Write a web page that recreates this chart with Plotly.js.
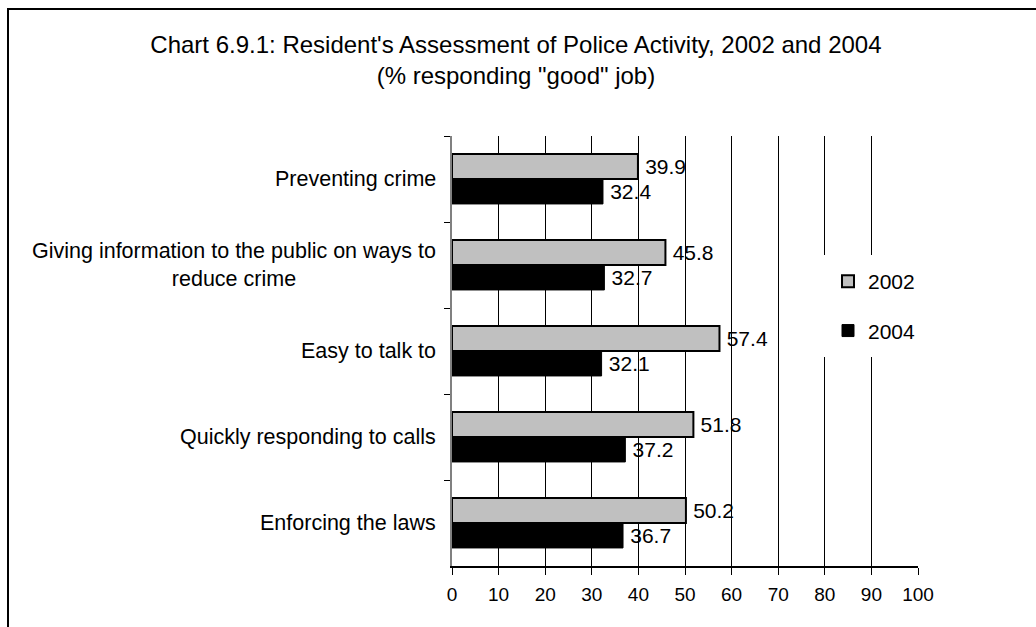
<!DOCTYPE html>
<html>
<head>
<meta charset="utf-8">
<script src="https://cdn.plot.ly/plotly-3.0.1.min.js"></script>
<style>
html,body{margin:0;padding:0;background:#fff;overflow:hidden;}
#chart{width:1036px;height:627px;}
</style>
</head>
<body>
<div id="chart"></div>
<script>
var categories = [
  "Preventing crime",
  "Giving information to the public on ways to<br>reduce crime",
  "Easy to talk to",
  "Quickly responding to calls",
  "Enforcing the laws"
];
var values2002 = [39.9, 45.8, 57.4, 51.8, 50.2];
var values2004 = [32.4, 32.7, 32.1, 37.2, 36.7];
var xTicks = [0, 10, 20, 30, 40, 50, 60, 70, 80, 90, 100];

var FONT = "Arial, 'Liberation Sans', sans-serif";

var traces = [
  {
    type: "bar", orientation: "h", name: "2002",
    x: values2002, y: categories,
    marker: {color: "#c0c0c0", line: {color: "#000", width: 2}},
    texttemplate: "\u2009%{x:.1f}", textposition: "outside",
    textfont: {family: FONT, size: 21, color: "#000"},
    constraintext: "none", cliponaxis: false,
    legendgroup: "a", hoverinfo: "x+y"
  },
  {
    type: "bar", orientation: "h", name: "2004",
    x: values2004, y: categories,
    marker: {color: "#000", line: {color: "#000", width: 1}},
    texttemplate: "\u2009%{x:.1f}", textposition: "outside",
    textfont: {family: FONT, size: 21, color: "#000"},
    constraintext: "none", cliponaxis: false,
    legendgroup: "b", hoverinfo: "x+y"
  }
];

var annotations = categories.map(function (c) {
  return {
    xref: "paper", yref: "y", x: 0, y: c, xanchor: "right", yanchor: "middle",
    xshift: -14, align: "center", showarrow: false, text: c,
    font: {family: FONT, size: 21.5, color: "#000"}
  };
});

var layout = {
  width: 1036, height: 627,
  paper_bgcolor: "#fff", plot_bgcolor: "#fff",
  margin: {l: 452, r: 118, t: 136, b: 61, pad: 0},
  font: {family: FONT, color: "#000"},
  title: {
    text: "Chart 6.9.1: Resident's Assessment of Police Activity, 2002 and 2004<br>(% responding \"good\" job)",
    font: {family: FONT, size: 24, color: "#000"},
    x: 0.498, xanchor: "center", y: 0.915, yanchor: "top"
  },
  barmode: "group", bargap: 0.42, bargroupgap: 0,
  xaxis: {
    range: [0, 100], tickvals: xTicks, ticktext: xTicks.map(String),
    showgrid: true, gridcolor: "#000", gridwidth: 1,
    zeroline: false, showline: true, linecolor: "#000", linewidth: 1.5,
    ticks: "outside", ticklen: 7, tickcolor: "#000", tickwidth: 1,
    ticklabelstandoff: 4,
    tickfont: {family: FONT, size: 19, color: "#000"}, fixedrange: true
  },
  yaxis: {
    type: "category", autorange: "reversed",
    showticklabels: false, tickson: "boundaries",
    ticks: "outside", ticklen: 6, tickcolor: "#000", tickwidth: 1,
    showgrid: false, zeroline: false,
    showline: true, linecolor: "#808080", linewidth: 2, fixedrange: true
  },
  legend: {
    x: 0.794, xanchor: "left", y: 0.723, yanchor: "top",
    bgcolor: "#fff", bordercolor: "#fff", borderwidth: 6,
    font: {family: FONT, size: 21, color: "#000"},
    tracegroupgap: 19, traceorder: "grouped", itemwidth: 30
  },
  annotations: annotations,
  shapes: [{
    type: "rect", xref: "paper", yref: "paper",
    x0: (8 - 452) / 466, x1: 1.5, y0: -0.5, y1: 1 + (136 - 9) / 430,
    line: {color: "#000", width: 2}, fillcolor: "rgba(0,0,0,0)"
  }]
};

Plotly.newPlot("chart", traces, layout, {displayModeBar: false, staticPlot: true});
</script>
</body>
</html>
